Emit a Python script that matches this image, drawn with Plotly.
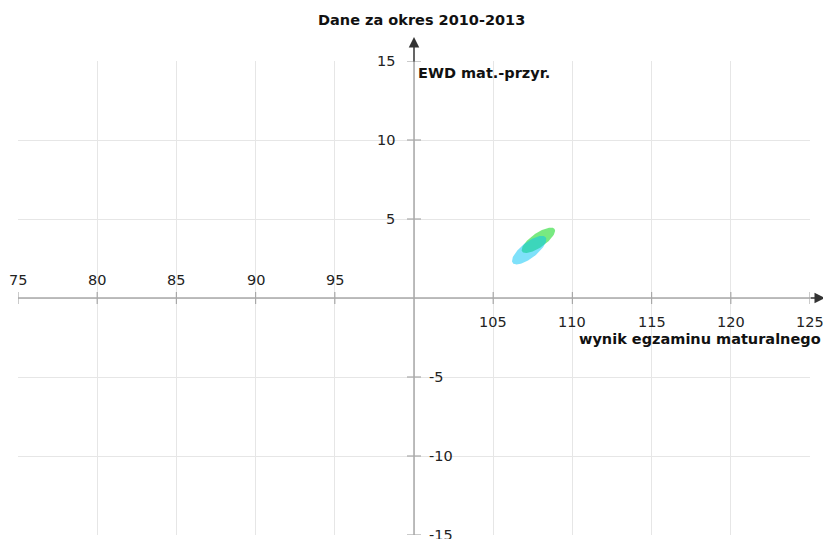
import numpy as np
import plotly.graph_objects as go

# ---- data ----
title_text = "Dane za okres 2010-2013"
x_title = "wynik egzaminu maturalnego"
y_title = "EWD mat.-przyr."
x_range = [75, 125]
y_range = [-15, 15]
x_origin = 100
y_origin = 0
x_ticks = [75, 80, 85, 90, 95, 105, 110, 115, 120, 125]
y_ticks = [15, 10, 5, -5, -10, -15]

# ellipses: name, center x, center y, semi-major, semi-minor, angle (deg), colour
ell_names = ["green", "cyan"]
ell_cx = [107.85, 107.27]
ell_cy = [3.65, 3.03]
ell_a = [1.25, 1.32]
ell_b = [0.45, 0.5]
ell_angle = [35, 38]
ell_color = ["rgba(10,215,25,0.55)", "rgba(0,195,245,0.5)"]

FONT = "DejaVu Sans"

fig = go.Figure()

t = np.linspace(0, 2 * np.pi, 120)
for name, cx, cy, a, b, ang, col in zip(ell_names, ell_cx, ell_cy, ell_a, ell_b, ell_angle, ell_color):
    th = np.deg2rad(ang)
    xs = cx + a * np.cos(t) * np.cos(th) - b * np.sin(t) * np.sin(th)
    ys = cy + a * np.cos(t) * np.sin(th) + b * np.sin(t) * np.cos(th)
    fig.add_trace(go.Scatter(x=xs, y=ys, mode="lines", fill="toself",
                             fillcolor=col, line=dict(width=0),
                             hoverinfo="skip", showlegend=False, name=name))

shapes = []
axis_col = "#a8a8a8"
# axis lines
shapes.append(dict(type="line", xref="x", yref="y", x0=x_range[0], x1=x_range[1],
                   y0=y_origin, y1=y_origin, line=dict(color=axis_col, width=1.5), layer="above"))
shapes.append(dict(type="line", xref="x", yref="y", x0=x_origin, x1=x_origin,
                   y0=y_range[0], y1=y_range[1], line=dict(color=axis_col, width=1.5), layer="above"))
# tick marks
for v in x_ticks:
    shapes.append(dict(type="line", xref="x", yref="y", ysizemode="pixel", yanchor=y_origin,
                       x0=v, x1=v, y0=-6, y1=6, line=dict(color=axis_col, width=1.2)))
for v in y_ticks:
    shapes.append(dict(type="line", xref="x", yref="y", xsizemode="pixel", xanchor=x_origin,
                       y0=v, y1=v, x0=-7, x1=7, line=dict(color=axis_col, width=1.2)))

ann = []
lab_font = dict(family=FONT, size=14.5, color="#222")
for v in x_ticks:
    if v < x_origin:
        ann.append(dict(x=v, y=y_origin, xref="x", yref="y", text=str(v), showarrow=False,
                        yshift=18, font=lab_font))
    else:
        ann.append(dict(x=v, y=y_origin, xref="x", yref="y", text=str(v), showarrow=False,
                        yshift=-24, font=lab_font))
for v in y_ticks:
    if v > y_origin:
        ann.append(dict(x=x_origin, y=v, xref="x", yref="y", text=str(v), showarrow=False,
                        xanchor="right", xshift=-17, font=lab_font))
    else:
        ann.append(dict(x=x_origin, y=v, xref="x", yref="y", text=str(v), showarrow=False,
                        xanchor="left", xshift=13, font=lab_font))

bold = dict(family=FONT, size=14.5, color="#111")
ann.append(dict(x=0.51, y=1, xref="paper", yref="paper", yanchor="middle", yshift=41,
                text="<b>%s</b>" % title_text, showarrow=False, font=bold))
ann.append(dict(x=x_origin, y=y_range[1], xref="x", yref="y", xanchor="left", xshift=2,
                yshift=-12, text="<b>%s</b>" % y_title, showarrow=False, font=bold))
ann.append(dict(x=1, y=y_origin, xref="paper", yref="y", xanchor="right", xshift=13,
                yshift=-41, text="<b>%s</b>" % x_title, showarrow=False, font=bold))
# arrow heads (axis-end arrows, placed in paper coordinates just beyond the plot area)
ann.append(dict(x=x_origin, y=1.0, xref="x", yref="paper", yshift=24, ax=0, ay=26,
                showarrow=True, arrowhead=2, arrowsize=1.4, arrowwidth=1.5,
                arrowcolor="#333", text=""))
ann.append(dict(x=1.0, y=y_origin, xref="paper", yref="y", xshift=15, ax=-16, ay=0,
                showarrow=True, arrowhead=2, arrowsize=1.4, arrowwidth=1.5,
                arrowcolor="#333", text=""))

fig.update_layout(
    width=823, height=539,
    margin=dict(l=18, r=13, t=61, b=4),
    paper_bgcolor="white", plot_bgcolor="white",
    xaxis=dict(range=x_range, dtick=5, tick0=0, showgrid=True, gridcolor="#e6e6e6", gridwidth=1,
               zeroline=False, showticklabels=False, ticks="", showline=False, fixedrange=True),
    yaxis=dict(range=y_range, dtick=5, tick0=0, showgrid=True, gridcolor="#e6e6e6", gridwidth=1,
               zeroline=False, showticklabels=False, ticks="", showline=False, fixedrange=True),
    shapes=shapes, annotations=ann, showlegend=False,
)

fig.write_html("out.html", config={"displayModeBar": False},
               post_script="document.body.style.margin='0';document.body.style.overflow='hidden';")
